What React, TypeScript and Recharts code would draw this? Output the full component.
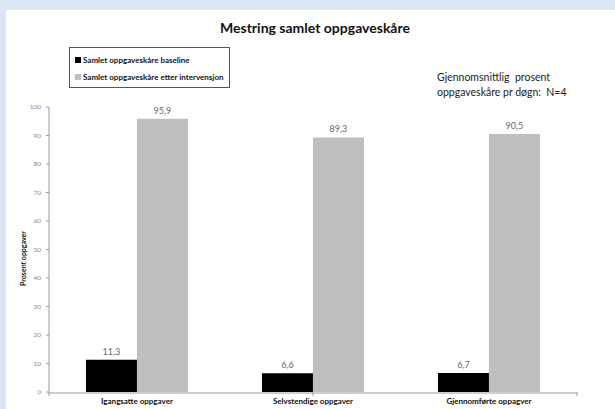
import { BarChart, Bar, XAxis, YAxis, Legend, LabelList } from 'recharts'

const categories = ['Igangsatte oppgaver', 'Selvstendige oppgaver', 'Gjennomførte oppagver']
const baseline = [11.3, 6.6, 6.7]
const etter = [95.9, 89.3, 90.5]
const yTicks = [0, 10, 20, 30, 40, 50, 60, 70, 80, 90, 100]
const boundaryTicks = [0, 1, 2, 3]
const seriesNames = ['Samlet oppgaveskåre baseline', 'Samlet oppgaveskåre etter intervensjon']

const data = categories.map((name, i) => ({ name, baseline: baseline[i], etter: etter[i] }))

const font = 'Lato, "Noto Sans", sans-serif'
const fmt = (v: any) => String(v).replace('.', ',')

const LegendBox = ({ payload }: any) => (
  <div style={{ border: '1px solid #555', padding: '3px 5px 2px 5px', background: '#fff', fontFamily: font }}>
    {(payload || []).map((p: any) => (
      <div key={p.value} style={{ display: 'flex', alignItems: 'center', height: 17, fontSize: 8, fontWeight: 700, color: '#111', whiteSpace: 'nowrap' }}>
        <span style={{ width: 6, height: 6, background: p.color, marginRight: 2, display: 'inline-block' }} />
        {p.value}
      </div>
    ))}
  </div>
)

const YLabel = ({ viewBox }: any) => {
  const cy = viewBox.y + viewBox.height / 2 + 9
  return (
    <text x={17} y={cy} transform={`rotate(-90 17 ${cy})`} textAnchor="middle" dominantBaseline="central"
      fontSize={7} fontWeight={700} fill="#111" fontFamily={font}>
      Prosent oppgaver
    </text>
  )
}

export default function App() {
  return (
    <div style={{ position: 'absolute', left: 0, top: 0, width: 615, height: 409, background: '#dbe5f4', overflow: 'hidden' }}>
      <div style={{ position: 'absolute', left: 6, top: 10, width: 609, height: 399, background: '#fff' }}>
        <div style={{ position: 'absolute', left: 0, top: 8, width: 618, textAlign: 'center', fontFamily: font, fontWeight: 700, fontSize: 14, lineHeight: '20px', color: '#111' }}>
          Mestring samlet oppgaveskåre
        </div>
        <div style={{ position: 'absolute', left: 431, top: 60, fontFamily: font, fontSize: 10.5, lineHeight: '15px', color: '#222', whiteSpace: 'pre' }}>
          {'Gjennomsnittlig  prosent\noppgaveskåre pr døgn:  N=4'}
        </div>
        <BarChart width={609} height={399} data={data} margin={{ top: 97, right: 38, left: 0, bottom: 0 }}
          barCategoryGap="21%" barGap={0} style={{ position: 'absolute', left: 0, top: 0 }}>
          <XAxis xAxisId="b" type="number" domain={[0, 3]} ticks={boundaryTicks} height={1} axisLine={false}
            tickSize={4} tickLine={{ stroke: '#9a9a9a' }} tick={{ fontSize: 1, fill: 'none' }} tickFormatter={() => ' '} allowDataOverflow />
          <XAxis xAxisId="cat" dataKey="name" height={16} tickLine={false} tickSize={0} tickMargin={5}
            axisLine={{ stroke: '#9a9a9a' }} interval={0}
            tick={{ fontSize: 8, fontWeight: 700, fill: '#111', fontFamily: font }} />
          <YAxis width={43} domain={[0, 100]} ticks={yTicks} tickSize={3} tickMargin={5}
            axisLine={{ stroke: '#9a9a9a' }} tickLine={{ stroke: '#9a9a9a' }}
            tick={{ fontSize: 6.5, fill: '#888', fontFamily: font }} label={<YLabel />} />
          <Legend layout="horizontal" verticalAlign="middle" align="center" content={<LegendBox />}
            wrapperStyle={{ position: 'absolute', left: 63, top: 37, width: 'auto' }} />
          <Bar xAxisId="cat" dataKey="baseline" name={seriesNames[0]} fill="#000" isAnimationActive={false}>
            <LabelList dataKey="baseline" position="top" offset={5} formatter={fmt}
              style={{ fontSize: 9, fill: '#666', fontFamily: font }} />
          </Bar>
          <Bar xAxisId="cat" dataKey="etter" name={seriesNames[1]} fill="#bfbfbf" isAnimationActive={false}>
            <LabelList dataKey="etter" position="top" offset={5} formatter={fmt}
              style={{ fontSize: 9, fill: '#666', fontFamily: font }} />
          </Bar>
        </BarChart>
      </div>
    </div>
  )
}
